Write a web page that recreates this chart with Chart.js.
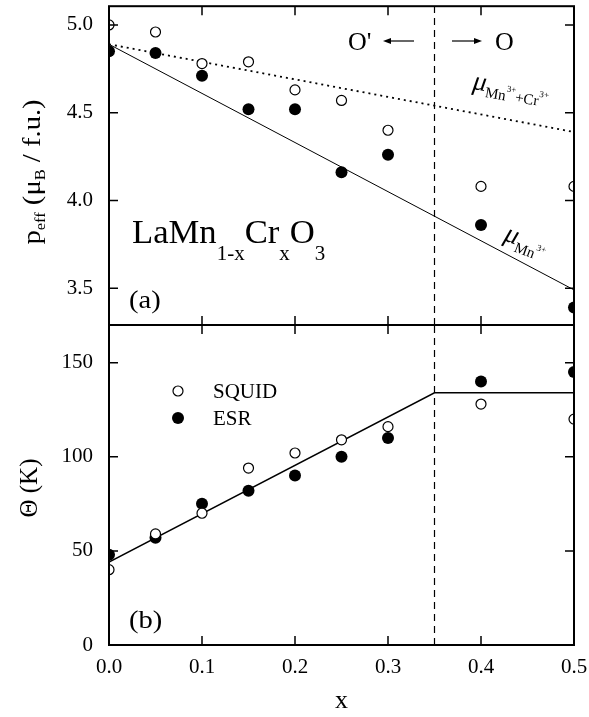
<!DOCTYPE html>
<html>
<head>
<meta charset="utf-8">
<script src="https://cdn.jsdelivr.net/npm/chart.js@4/dist/chart.umd.min.js"></script>
<style>
  body { margin: 0; background: #fff; }
  #wrap { position: relative; width: 589px; height: 717px; }
  canvas { position: absolute; left: 0; top: 0; }
</style>
</head>
<body>
<div id="wrap">
  <canvas id="peffChart" width="589" height="717"></canvas>
  <canvas id="thetaChart" width="589" height="717"></canvas>
</div>
<script>
// Cr content x of LaMn(1-x)Cr(x)O3
const xValues = [0, 0.05, 0.1, 0.15, 0.2, 0.25, 0.3, 0.4, 0.5];

// (a) effective moment, mu_B per formula unit
const peffSquid = [5.00, 4.96, 4.78, 4.79, 4.63, 4.57, 4.40, 4.08, 4.08];
const peffEsr   = [4.85, 4.84, 4.71, 4.52, 4.52, 4.16, 4.26, 3.86, 3.39];
const muMnCrX = [0, 0.5];
const muMnCr  = [4.89, 4.39];
const muMnX = [0, 0.5];
const muMn  = [4.89, 3.49];

// (b) Curie-Weiss temperature, K
const thetaSquid = [40, 59, 70, 94, 102, 109, 116, 128, 120];
const thetaEsr   = [48, 57, 75, 82, 90, 100, 110, 140, 145];
const thetaFitX = [0, 0.35, 0.5];
const thetaFit  = [44, 134, 134];

// O' / O structural boundary
const boundaryX = 0.35;

// tick labels
const xTicks = [0, 0.1, 0.2, 0.3, 0.4, 0.5];
const peffTicks = [3.5, 4.0, 4.5, 5.0];
const thetaTicks = [0, 50, 100, 150];

const SERIF = "'Liberation Serif', 'Times New Roman', serif";
Chart.defaults.font.family = SERIF;
Chart.defaults.color = '#000';

const pts = (xs, ys) => xs.map((x, i) => ({x: x, y: ys[i]}));
const TICK = 9;

function openSeries(data) {
  return { data: data, pointStyle: 'circle', pointRadius: 5, pointBorderWidth: 1.2,
           pointBackgroundColor: '#fff', pointBorderColor: '#000', showLine: false, clip: 0 };
}
function filledSeries(data) {
  return { data: data, pointStyle: 'circle', pointRadius: 6, pointBorderWidth: 0,
           pointBackgroundColor: '#000', pointBorderColor: '#000', showLine: false, clip: 0 };
}
function lineSeries(data, width, dash) {
  return { data: data, showLine: true, pointRadius: 0, borderColor: '#000',
           borderWidth: width, borderDash: dash || [], tension: 0, clip: 0 };
}

// text made of runs: [text, size, dy, style]
function drawRuns(ctx, runs, x, y, angle, align, sx) {
  ctx.save();
  ctx.translate(x, y);
  ctx.rotate(angle || 0);
  ctx.scale(sx || 1, 1);
  ctx.fillStyle = '#000';
  ctx.textAlign = 'left';
  ctx.textBaseline = 'alphabetic';
  const fontOf = r => (r[3] || '') + ' ' + r[1] + 'px ' + SERIF;
  let w = 0;
  runs.forEach(r => { ctx.font = fontOf(r); w += ctx.measureText(r[0]).width; });
  let cx = align === 'center' ? -w / 2 : 0;
  runs.forEach(r => {
    ctx.font = fontOf(r);
    ctx.fillText(r[0], cx, r[2]);
    cx += ctx.measureText(r[0]).width;
  });
  ctx.restore();
}

function arrow(ctx, x0, x1, y) {
  const dir = Math.sign(x1 - x0);
  ctx.beginPath();
  ctx.moveTo(x0, y);
  ctx.lineTo(x1 - dir * 6, y);
  ctx.stroke();
  ctx.beginPath();
  ctx.moveTo(x1, y);
  ctx.lineTo(x1 - dir * 8, y - 3);
  ctx.lineTo(x1 - dir * 8, y + 3);
  ctx.closePath();
  ctx.fill();
}

// frame and inward tick marks on all four sides
const framePlugin = {
  id: 'frame',
  afterDatasetsDraw(chart, args, opts) {
    const {ctx, chartArea: a, scales: {x, y}} = chart;
    ctx.save();
    ctx.strokeStyle = '#000';
    ctx.lineWidth = 1.5;
    ctx.beginPath();
    xTicks.forEach(v => {
      const px = x.getPixelForValue(v);
      ctx.moveTo(px, a.bottom); ctx.lineTo(px, a.bottom - TICK);
      ctx.moveTo(px, a.top); ctx.lineTo(px, a.top + TICK);
    });
    opts.yTicks.forEach(v => {
      const py = y.getPixelForValue(v);
      ctx.moveTo(a.left, py); ctx.lineTo(a.left + TICK, py);
      ctx.moveTo(a.right, py); ctx.lineTo(a.right - TICK, py);
    });
    ctx.stroke();
    ctx.lineWidth = 2;
    ctx.strokeRect(a.left, a.top, a.right - a.left, a.bottom - a.top);
    ctx.restore();
  }
};

function axisY(min, max, ticks, digits) {
  return {
    type: 'linear', min: min, max: max,
    afterBuildTicks: s => { s.ticks = ticks.map(v => ({value: v})); },
    ticks: { callback: v => v.toFixed(digits), font: {size: 21}, color: '#000', padding: 16 },
    grid: { display: false, drawTicks: false },
    border: { display: false },
    afterFit: s => { s.width = 109; s.paddingTop = 0; s.paddingBottom = 0; }
  };
}

// (a) p_eff panel
new Chart(document.getElementById('peffChart'), {
  type: 'scatter',
  data: {
    datasets: [
      openSeries(pts(xValues, peffSquid)),
      filledSeries(pts(xValues, peffEsr)),
      lineSeries(pts(muMnCrX, muMnCr), 1.8, [2, 4]),
      lineSeries(pts(muMnX, muMn), 1),
      lineSeries(pts([boundaryX, boundaryX], [3.29, 5.107]), 1.2, [7, 5])
    ]
  },
  options: {
    responsive: false, animation: false, events: [],
    layout: { padding: {top: 5, right: 15, bottom: 392, left: 0} },
    scales: {
      x: { type: 'linear', min: 0, max: 0.5, display: false },
      y: axisY(3.29, 5.107, peffTicks, 1)
    },
    plugins: { legend: {display: false}, tooltip: {enabled: false}, frame: {yTicks: peffTicks} }
  },
  plugins: [framePlugin, {
    id: 'peffText',
    afterDraw(chart) {
      const ctx = chart.ctx;
      // axis title
      drawRuns(ctx, [['p', 26, 0], ['eff', 15, 5], [' (\u03bc', 26, 0], ['B', 15, 5], [' / f.u.)', 26, 0]],
               40, 172, -Math.PI / 2, 'center', 1.1);
      // compound name
      drawRuns(ctx, [['LaMn', 33, 0], ['1-x', 20, 17], ['Cr', 33, 0], ['x', 20, 17], ['O', 33, 0], ['3', 20, 17]],
               132, 243, 0, 'left', 1.05);
      drawRuns(ctx, [['(a)', 26, 0]], 129, 308, 0, 'left', 1.1);
      // phase labels
      drawRuns(ctx, [["O'", 26, 0]], 348, 50);
      drawRuns(ctx, [['O', 26, 0]], 495, 50);
      ctx.save();
      ctx.strokeStyle = '#000'; ctx.fillStyle = '#000'; ctx.lineWidth = 1.2;
      arrow(ctx, 414, 383, 41);
      arrow(ctx, 452, 482, 41);
      ctx.restore();
      // line labels
      drawRuns(ctx, [['\u03bc', 27, 0, 'italic'], ['Mn', 15, 6], ['3+', 9, -3], ['+Cr', 15, 6], ['3+', 9, -3]],
               472, 89, 0.16);
      drawRuns(ctx, [['\u03bc', 27, 0, 'italic'], ['Mn', 15, 7], ['3+', 9, -2]],
               503, 240, 0.35);
    }
  }]
});

// (b) Theta panel
new Chart(document.getElementById('thetaChart'), {
  type: 'scatter',
  data: {
    datasets: [
      openSeries(pts(xValues, thetaSquid)),
      filledSeries(pts(xValues, thetaEsr)),
      lineSeries(pts(thetaFitX, thetaFit), 1.5),
      lineSeries(pts([boundaryX, boundaryX], [0, 170]), 1.2, [7, 5])
    ]
  },
  options: {
    responsive: false, animation: false, events: [],
    layout: { padding: {top: 325, right: 15, bottom: 0, left: 0} },
    scales: {
      x: {
        type: 'linear', min: 0, max: 0.5,
        afterBuildTicks: s => { s.ticks = xTicks.map(v => ({value: v})); },
        ticks: { callback: v => v.toFixed(1), font: {size: 21}, color: '#000', padding: 10,
                 maxRotation: 0, autoSkip: false },
        grid: { display: false, drawTicks: false },
        border: { display: false },
        title: { display: true, text: 'x', font: {size: 26}, color: '#000', padding: {top: 0, bottom: 0} },
        afterFit: s => { s.height = 72; s.paddingLeft = 0; s.paddingRight = 0; }
      },
      y: axisY(0, 170, thetaTicks, 0)
    },
    plugins: { legend: {display: false}, tooltip: {enabled: false}, frame: {yTicks: thetaTicks} }
  },
  plugins: [framePlugin, {
    id: 'thetaText',
    afterDraw(chart) {
      const ctx = chart.ctx;
      drawRuns(ctx, [['\u0398 (K)', 25, 0]], 37, 488, -Math.PI / 2, 'center');
      drawRuns(ctx, [['(b)', 26, 0]], 129, 628, 0, 'left', 1.1);
      // legend
      ctx.save();
      ctx.lineWidth = 1.2;
      ctx.strokeStyle = '#000';
      ctx.fillStyle = '#fff';
      ctx.beginPath(); ctx.arc(178, 391, 5, 0, Math.PI * 2); ctx.fill(); ctx.stroke();
      ctx.fillStyle = '#000';
      ctx.beginPath(); ctx.arc(178, 418, 6, 0, Math.PI * 2); ctx.fill();
      ctx.restore();
      drawRuns(ctx, [['SQUID', 21, 0]], 213, 398);
      drawRuns(ctx, [['ESR', 21, 0]], 213, 425);
    }
  }]
});
</script>
</body>
</html>
